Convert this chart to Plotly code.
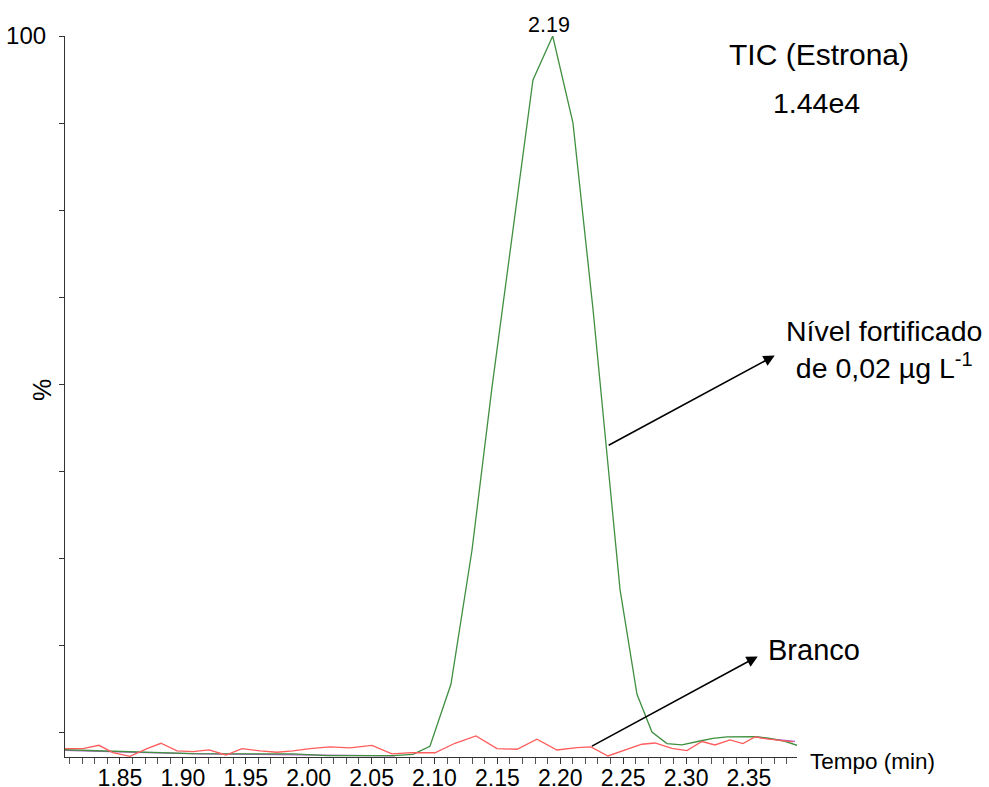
import plotly.graph_objects as go

# ---- data (retention time in min, intensity in %) ----
fort_t = [1.8063, 1.8635, 1.8818, 1.9080, 1.9613, 1.9875, 2.0145, 2.0670, 2.0829,
          2.0964, 2.1131, 2.1298, 2.1457, 2.1624, 2.1783, 2.1940, 2.2101, 2.2260,
          2.2475, 2.2610, 2.2729, 2.2848, 2.2967, 2.3111, 2.3214, 2.3325, 2.3428,
          2.3548, 2.3667, 2.3786, 2.3882]
fort_i = [-2.51, -2.77, -2.91, -3.06, -3.11, -3.11, -3.34, -3.34, -3.16,
          -2.01, 6.89, 26.11, 49.50, 72.17, 93.69, 100.0, 87.52, 60.83,
          20.52, 5.45, 0.04, -1.62, -1.82, -1.25, -0.86, -0.67, -0.62,
          -0.62, -0.86, -1.29, -1.87]

blank_t = [1.8063, 1.8206, 1.8333, 1.8444, 1.8579, 1.8715, 1.8826, 1.8953, 1.9080,
           1.9207, 1.9343, 1.9470, 1.9613, 1.9748, 1.9875, 2.0010, 2.0169, 2.0328,
           2.0503, 2.0662, 2.0821, 2.1004, 2.1163, 2.1330, 2.1497, 2.1656, 2.1815,
           2.1974, 2.2133, 2.2244, 2.2379, 2.2530, 2.2649, 2.2753, 2.2888, 2.3007,
           2.3126, 2.3230, 2.3349, 2.3452, 2.3548, 2.3643, 2.3762, 2.3850]
blank_i = [-2.34, -2.34, -1.87, -2.91, -3.45, -2.34, -1.58, -2.68, -2.77,
           -2.54, -3.26, -2.34, -2.68, -2.87, -2.68, -2.34, -2.11, -2.25,
           -1.87, -3.11, -2.91, -2.94, -1.58, -0.53, -2.34, -2.44, -1.00,
           -2.54, -2.20, -2.11, -3.40, -2.44, -1.72, -1.54, -2.30, -2.63,
           -1.33, -1.82, -1.10, -1.62, -0.67, -0.96, -1.25, -1.39]

base_t = [1.8063, 1.8444, 1.8635, 1.9136, 1.9613, 2.0169, 2.0686, None,
          2.3548, 2.3667, 2.3786, 2.3866]
base_i = [-2.60, -2.82, -2.90, -3.10, -3.20, -3.40, -3.40, None,
          -0.62, -0.96, -1.18, -1.32]

y_ticks = [0, 12.5, 25, 37.5, 50, 62.5, 75, 87.5, 100]
y_ticktext = ["", "", "", "", "", "", "", "", "100"]
x_ticks = [1.85, 1.90, 1.95, 2.00, 2.05, 2.10, 2.15, 2.20, 2.25, 2.30, 2.35]

FONT = "Liberation Sans, Arial, sans-serif"

fig = go.Figure()
fig.add_trace(go.Scatter(x=base_t, y=base_i, mode="lines",
                         line=dict(color="#b25ccc", width=1.3), hoverinfo="skip"))
fig.add_trace(go.Scatter(x=fort_t, y=fort_i, mode="lines",
                         line=dict(color="#3f8f3f", width=1.3)))
fig.add_trace(go.Scatter(x=blank_t, y=blank_i, mode="lines",
                         line=dict(color="#ff5c5c", width=1.3)))

fig.update_layout(
    width=989, height=787,
    margin=dict(l=65, r=192, t=36, b=29.5),
    paper_bgcolor="white", plot_bgcolor="white",
    showlegend=False,
    font=dict(family=FONT, color="black"),
    xaxis=dict(range=[1.8063, 2.3882], tickvals=x_ticks,
               ticktext=[f"{v:.2f}" for v in x_ticks],
               automargin=False,
               showgrid=False, zeroline=False, showline=True, linecolor="#333",
               linewidth=1.2, ticks="outside", ticklen=6, tickcolor="#333",
               tickfont=dict(size=23, family=FONT, color="black"),
               minor=dict(dtick=0.01, tick0=1.80, ticks="outside", ticklen=6,
                          tickcolor="#555", showgrid=False),
               ticklabelstandoff=-6),
    yaxis=dict(range=[-3.55, 100], tickvals=y_ticks, ticktext=y_ticktext,
               automargin=False,
               showgrid=False, zeroline=False, showline=True, linecolor="#333",
               linewidth=1.2, ticks="outside", ticklen=5, tickcolor="#333",
               tickfont=dict(size=24, family=FONT, color="black"),
               ticklabelstandoff=8),
)

def txt(x, y, s, size, xanchor="center", yanchor="middle", angle=0):
    fig.add_annotation(x=x, y=y, xref="paper", yref="paper", text=s,
                       showarrow=False, xanchor=xanchor, yanchor=yanchor,
                       textangle=angle, font=dict(size=size, family=FONT, color="black"))

txt(0.661, 1.0156, "2.19", 21.5)
txt(1.030, 0.9737, "TIC (Estrona)", 30)
txt(1.0273, 0.9071, "1.44e4", 28.5)
txt(1.1189, 0.5648, "Nível fortificado<br>de 0,02 µg L<sup>-1</sup>", 28.5)
txt(1.0239, 0.149, "Branco", 29)
txt(1.015, -0.006, "Tempo (min)", 22.5, xanchor="left")
txt(-0.0314, 0.509, "%", 25, angle=-90)

# arrows (tail on trace -> head near label)
for (hx, hy, tx, ty) in [(2.3705, 54.1, 2.2373, 41.1), (2.3570, 10.9, 2.2240, -2.11)]:
    fig.add_annotation(x=hx, y=hy, ax=tx, ay=ty, xref="x", yref="y",
                       axref="x", ayref="y", text="", showarrow=True,
                       arrowhead=2, arrowsize=1.4, arrowwidth=1.6,
                       arrowcolor="black", standoff=0, startstandoff=0)

fig.write_html("out.html")
